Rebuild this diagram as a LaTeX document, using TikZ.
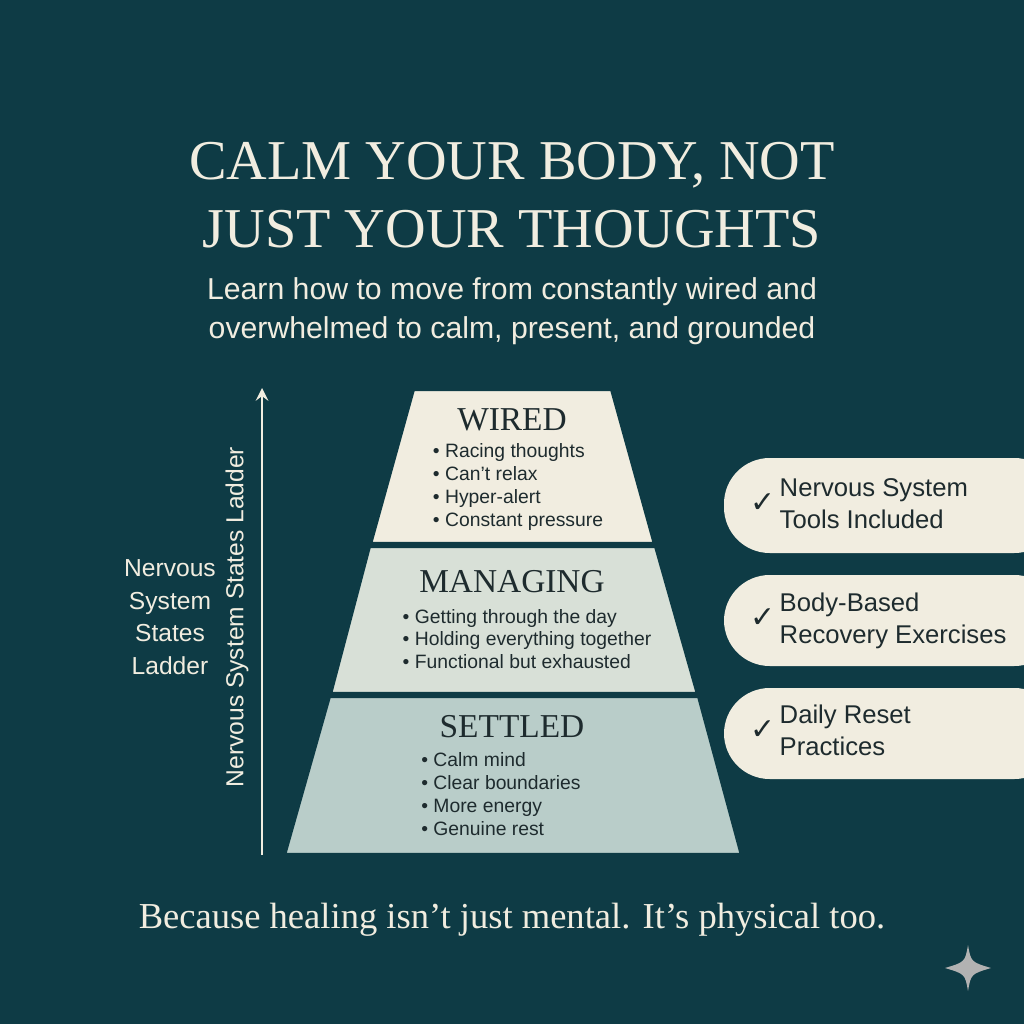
\documentclass[tikz,border=0pt]{standalone}
\usepackage{fontspec}
\setmainfont{Liberation Serif}
\setsansfont{Liberation Sans}
\newfontfamily\symfont{DejaVu Sans}
\definecolor{bgteal}{HTML}{0E3B45}
\definecolor{cream}{HTML}{F1EDE0}
\definecolor{sage}{HTML}{D8E0D7}
\definecolor{mist}{HTML}{B9CDC9}
\definecolor{ink}{HTML}{1E2B2E}
\tikzset{
  tier/.style={draw=bgteal, line width=1.2pt},
  tiertitle/.style={font=\fontsize{9.5}{11}\selectfont, text=ink},
  bullets/.style={font=\sffamily\fontsize{5.5}{6.5}\selectfont, text=ink, align=left},
  tag/.style={fill=cream, rounded corners=13pt},
  tagtext/.style={font=\sffamily\fontsize{7.3}{9.2}\selectfont, text=ink, align=left, anchor=west}
}
\begin{document}
\begin{tikzpicture}[x=0.1mm, y=-0.1mm]
\fill[bgteal] (0,0) rectangle (1024,1024);
\useasboundingbox (0,0) rectangle (1024,1024);
% title
\node[text=cream, font=\fontsize{16}{19.5}\selectfont, align=center] (title) at (512,195)
  {CALM YOUR BODY, NOT\\JUST YOUR THOUGHTS};
\node[text=cream, font=\sffamily\fontsize{8.6}{11}\selectfont, align=center] (sub) at (512,311)
  {Learn how to move from constantly wired and\\overwhelmed to calm, present, and grounded};
% ladder
\fill[tier, fill=cream] (413,389) -- (612,389) -- (655,544) -- (370,544) -- cycle;
\fill[tier, fill=sage] (369,546) -- (656,546) -- (698,694) -- (330,694) -- cycle;
\fill[tier, fill=mist] (329,696) -- (699,696) -- (742,855) -- (284,855) -- cycle;
\node[tiertitle] (wired) at (512,420) {WIRED};
\node[bullets] (wiredlist) at (518,487) {\textbullet\ Racing thoughts\\\textbullet\ Can't relax\\\textbullet\ Hyper-alert\\\textbullet\ Constant pressure};
\node[tiertitle] (managing) at (512,582) {MANAGING};
\node[bullets] (managinglist) at (527,639) {\textbullet\ Getting through the day\\\textbullet\ Holding everything together\\\textbullet\ Functional but exhausted};
\node[tiertitle] (settled) at (512,727) {SETTLED};
\node[bullets] (settledlist) at (501,794) {\textbullet\ Calm mind\\\textbullet\ Clear boundaries\\\textbullet\ More energy\\\textbullet\ Genuine rest};
% axis
\coordinate (axislow) at (262,855);
\coordinate (axishigh) at (262,388);
\draw[cream, line width=0.6pt, -stealth] (axislow) -- (axishigh);
\node[text=cream, font=\sffamily\fontsize{7}{8.5}\selectfont, rotate=90] (axislabel) at (237,617) {Nervous System States Ladder};
\node[text=cream, font=\sffamily\fontsize{7}{9.3}\selectfont, align=center] (sidelabel) at (170,617) {Nervous\\System\\States\\Ladder};
% tags
\fill[tag] (724,458) rectangle (1060,553);
\fill[tag] (724,575) rectangle (1060,666);
\fill[tag] (724,688) rectangle (1060,779);
\node[tagtext] (toolstag) at (738,506) {{\symfont\fontsize{8.5}{9}\selectfont ✓}\,\begin{tabular}[c]{@{}l@{}}Nervous System\\Tools Included\end{tabular}};
\node[tagtext] (bodytag) at (738,621) {{\symfont\fontsize{8.5}{9}\selectfont ✓}\,\begin{tabular}[c]{@{}l@{}}Body-Based\\Recovery Exercises\end{tabular}};
\node[tagtext] (dailytag) at (738,733) {{\symfont\fontsize{8.5}{9}\selectfont ✓}\,\begin{tabular}[c]{@{}l@{}}Daily Reset\\Practices\end{tabular}};
% footer
\node[text=cream, font=\fontsize{10.4}{12}\selectfont] (footer) at (512,920) {Because healing isn’t just mental. It’s physical too.};
\fill[gray!60] (968,945) .. controls (971,962) .. (991,968) .. controls (971,974) .. (968,991)
  .. controls (965,974) .. (945,968) .. controls (965,962) .. (968,945);
\end{tikzpicture}
\end{document}
